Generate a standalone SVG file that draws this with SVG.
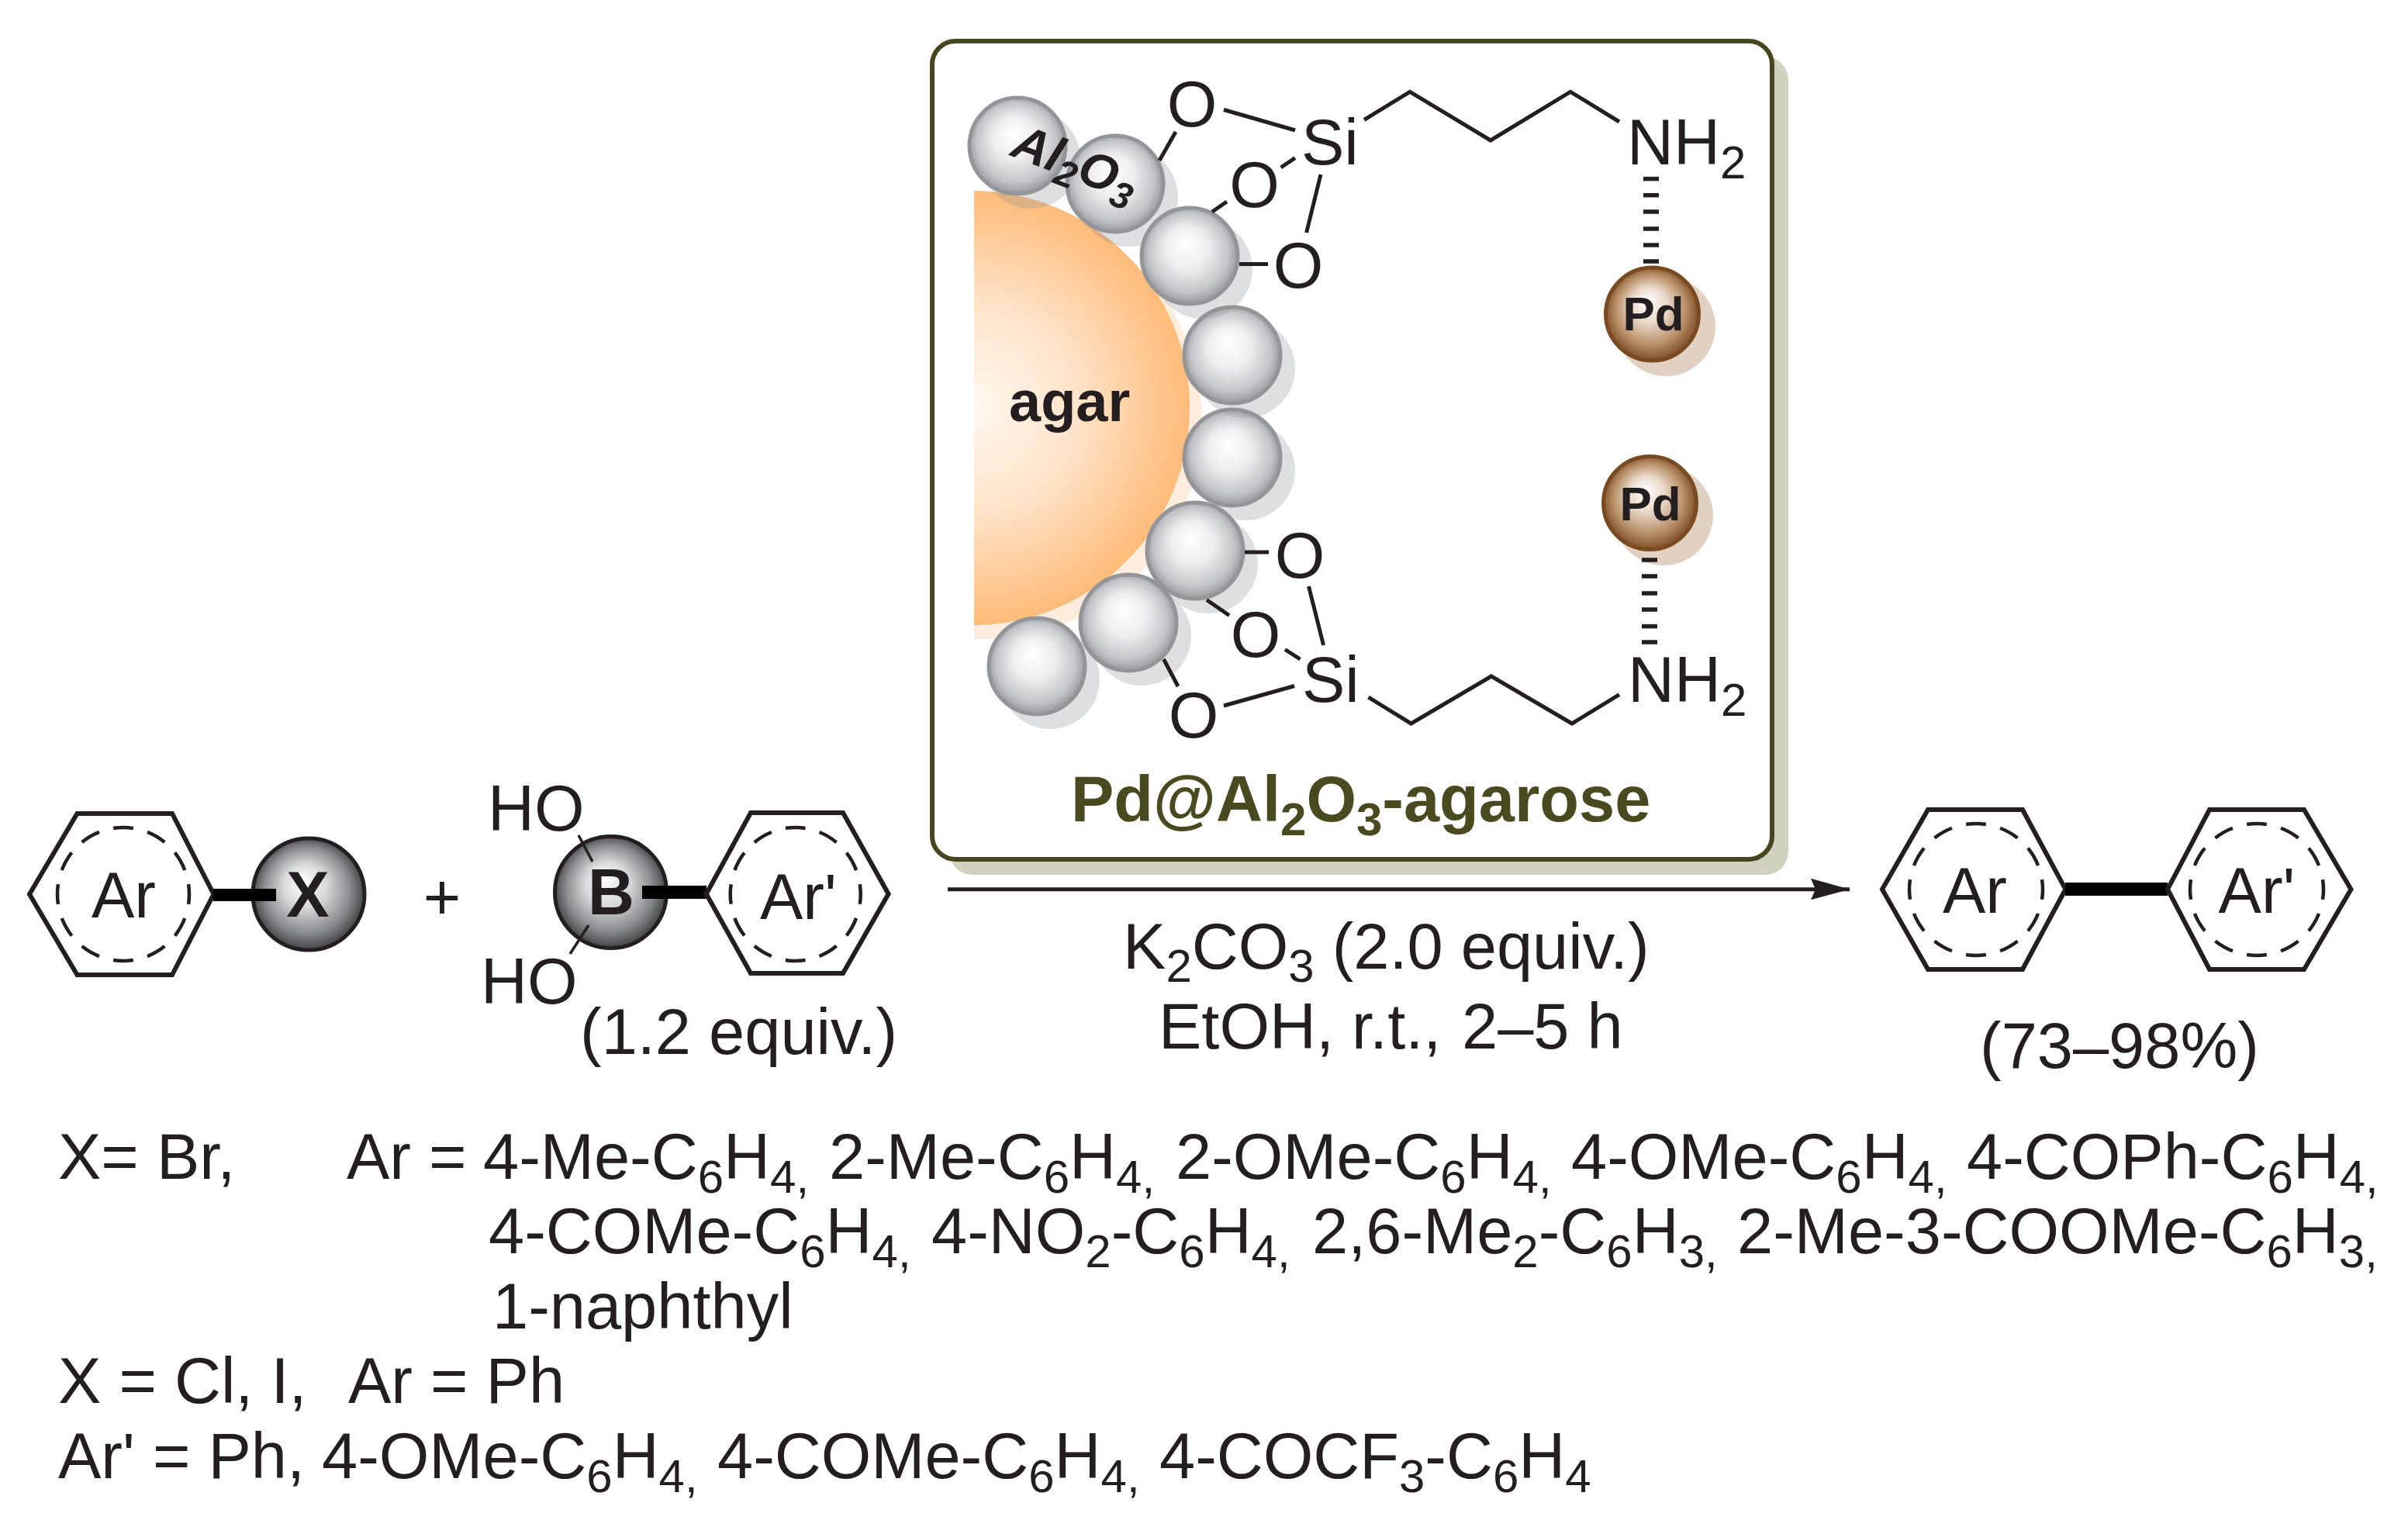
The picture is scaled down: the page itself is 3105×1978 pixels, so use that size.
<svg xmlns="http://www.w3.org/2000/svg" width="3105" height="1978" viewBox="0 0 3105 1978">
<style>
text{font-family:"Liberation Sans",Arial,sans-serif;font-size:83px;fill:#231f20}
.b{font-weight:bold}
.m{text-anchor:middle}
.s{font-size:60px}
.ln{fill:none;stroke:#231f20;stroke-width:5;stroke-linecap:butt;stroke-linejoin:miter}
.th{stroke-width:3.5}
.hex{fill:none;stroke:#231f20;stroke-width:6}
.dash{fill:none;stroke:#231f20;stroke-width:4.5;stroke-dasharray:.58 .42;stroke-dashoffset:.29}
.hash{stroke:#231f20;stroke-width:5.5}
.bold{fill:#000;stroke:none}
.gs{fill:#939598;opacity:.3}
.gb{fill:url(#gray);stroke:#939598;stroke-width:5}
.ps{fill:#a97c50;opacity:.35}
.pb{fill:url(#brown);stroke:#7a4a20;stroke-width:5}
.db{fill:url(#dark);stroke:#231f20;stroke-width:5}
</style>
<defs>
<radialGradient id="agarG" gradientUnits="userSpaceOnUse" cx="1254" cy="526" r="280">
<stop offset="0" stop-color="#fff8f1"/><stop offset=".5" stop-color="#fee2c6"/><stop offset="1" stop-color="#fdbb78"/>
</radialGradient>
<radialGradient id="gray" cx=".5" cy=".5" r=".55" fx=".45" fy=".36">
<stop offset="0" stop-color="#ffffff"/><stop offset=".4" stop-color="#eeeeef"/><stop offset=".75" stop-color="#c4c5c8"/><stop offset="1" stop-color="#85878a"/>
</radialGradient>
<radialGradient id="brown" cx=".5" cy=".5" r=".55" fx=".45" fy=".35">
<stop offset="0" stop-color="#ffffff"/><stop offset=".35" stop-color="#ead9c9"/><stop offset=".7" stop-color="#b58c64"/><stop offset="1" stop-color="#6b3b14"/>
</radialGradient>
<radialGradient id="dark" cx=".5" cy=".5" r=".55" fx=".45" fy=".38">
<stop offset="0" stop-color="#ffffff"/><stop offset=".35" stop-color="#d8d9da"/><stop offset=".7" stop-color="#8a8b8e"/><stop offset="1" stop-color="#2b2b2c"/>
</radialGradient>
<clipPath id="agarClip"><rect x="1256" y="200" width="400" height="700"/></clipPath>
<marker id="head" markerUnits="userSpaceOnUse" markerWidth="52" markerHeight="30" refX="50" refY="14" orient="auto" overflow="visible">
<path d="M0,0 L50,14 L0,27.5 L6,14 Z" fill="#231f20"/>
</marker>
</defs>
<rect width="3105" height="1978" fill="#ffffff"/>

<g id="catalyst-box">
<rect x="1224" y="73" width="1082" height="1055" rx="30" fill="#d0d1bf"/>
<rect x="1202" y="53" width="1083" height="1055" rx="30" fill="#ffffff" stroke="#47471f" stroke-width="6"/>
</g>

<g id="agar">
<g clip-path="url(#agarClip)">
<circle cx="1268" cy="542" r="282" fill="#feeddd"/>
<circle cx="1254" cy="526" r="280" fill="url(#agarG)"/>
</g>
<text class="b" x="1301" y="543" style="font-size:74px">agar</text>
</g>

<g id="al2o3-particles">
<g id="p1"><circle class="gs" cx="1329" cy="205" r="64"/><circle class="gb" cx="1312" cy="188" r="62"/></g>
<g id="p2"><circle class="gs" cx="1455" cy="254" r="64"/><circle class="gb" cx="1438" cy="237" r="62"/></g>
<g id="p5"><circle class="gs" cx="1606" cy="607" r="64"/><circle class="gb" cx="1589" cy="590" r="62"/></g>
<g id="p4"><circle class="gs" cx="1606" cy="475" r="64"/><circle class="gb" cx="1589" cy="458" r="62"/></g>
<g id="p3"><circle class="gs" cx="1551" cy="347" r="64"/><circle class="gb" cx="1534" cy="330" r="62"/></g>
<g id="p8"><circle class="gs" cx="1354" cy="876" r="64"/><circle class="gb" cx="1337" cy="859" r="62"/></g>
<g id="p7"><circle class="gs" cx="1472" cy="820" r="64"/><circle class="gb" cx="1455" cy="803" r="62"/></g>
<g id="p6"><circle class="gs" cx="1558" cy="727" r="64"/><circle class="gb" cx="1541" cy="710" r="62"/></g>
<text class="b" transform="translate(1301,200) rotate(21)" style="font-style:italic;font-size:64px">Al<tspan dy="13" style="font-size:48px">2</tspan><tspan dy="-13">O</tspan><tspan dy="13" style="font-size:48px">3</tspan></text>
</g>

<g id="pd-top"><circle class="ps" cx="2148" cy="421" r="64"/><circle class="pb" cx="2130.5" cy="405" r="60"/><text class="b m" x="2132" y="426" style="font-size:62px">Pd</text></g>
<g id="pd-bottom"><circle class="ps" cx="2145" cy="665" r="64"/><circle class="pb" cx="2127.5" cy="648.5" r="60"/><text class="b m" x="2128" y="671" style="font-size:62px">Pd</text></g>

<g id="connectors">
<line class="ln" x1="1578" y1="141.5" x2="1670" y2="168"/>
<line class="ln" x1="1495" y1="207" x2="1516" y2="170"/>
<line class="ln" x1="1651.6" y1="216" x2="1670" y2="203.6"/>
<line class="ln" x1="1563" y1="273" x2="1582" y2="260"/>
<line class="ln" x1="1703" y1="225" x2="1684.6" y2="300"/>
<line class="ln" x1="1598" y1="340.4" x2="1635" y2="340.4"/>
<polyline class="ln" points="1759,154.5 1818,118.4 1922,181 2025,118.4 2088,157"/>
<line class="hash" x1="2119" y1="230.6" x2="2139" y2="230.6"/><line class="hash" x1="2119" y1="251.7" x2="2139" y2="251.7"/><line class="hash" x1="2119" y1="273" x2="2139" y2="273"/><line class="hash" x1="2119" y1="295" x2="2139" y2="295"/><line class="hash" x1="2119" y1="316" x2="2139" y2="316"/><line class="hash" x1="2119" y1="337" x2="2139" y2="337"/>
<line class="ln" x1="1605" y1="712" x2="1636" y2="712"/>
<line class="ln" x1="1687.5" y1="756" x2="1706.6" y2="832"/>
<line class="ln" x1="1556" y1="773.5" x2="1585" y2="793.5"/>
<line class="ln" x1="1657" y1="837.5" x2="1676.5" y2="850"/>
<line class="ln" x1="1500.5" y1="850" x2="1519" y2="885"/>
<line class="ln" x1="1578" y1="910" x2="1669" y2="884.5"/>
<polyline class="ln" points="1764.5,899 1819.5,933 1923,872 2027,933 2088,895.6"/>
<line class="hash" x1="2117" y1="722" x2="2137" y2="722"/><line class="hash" x1="2117" y1="743" x2="2137" y2="743"/><line class="hash" x1="2117" y1="765" x2="2137" y2="765"/><line class="hash" x1="2117" y1="786" x2="2137" y2="786"/><line class="hash" x1="2117" y1="807.6" x2="2137" y2="807.6"/><line class="hash" x1="2117" y1="828" x2="2137" y2="828"/>
<line class="ln" x1="1222" y1="1146.7" x2="2385" y2="1146.7" marker-end="url(#head)"/>
</g>

<g id="silane-top">
<text class="m" x="1537" y="163">O</text><text class="m" x="1617.5" y="267">O</text><text class="m" x="1674" y="371">O</text>
<text x="1678" y="212">Si</text>
<text x="2098" y="212">NH<tspan class="s" dy="18">2</tspan></text>
</g>
<g id="silane-bottom">
<text class="m" x="1676" y="745">O</text><text class="m" x="1619" y="847">O</text><text class="m" x="1539" y="951">O</text>
<text x="1679" y="905">Si</text>
<text x="2099" y="905">NH<tspan class="s" dy="18">2</tspan></text>
</g>
<text id="catalyst-label" class="b" x="1381" y="1059" style="fill:#4a4a20">Pd@Al<tspan class="s" dy="18">2</tspan><tspan dy="-18">O</tspan><tspan class="s" dy="18">3</tspan><tspan dy="-18">-agarose</tspan></text>

<g id="aryl-halide">
<polygon class="hex" points="38,1153 99.5,1049 222,1049 275.5,1153 222,1257 99.5,1257"/>
<ellipse class="dash" pathLength="12" cx="159" cy="1153" rx="85" ry="86"/>
<text x="118" y="1183">Ar</text>
<circle class="db" cx="398" cy="1153" r="72"/>
<rect class="bold" x="275" y="1146" width="81" height="16"/>
<text class="b m" x="397" y="1182">X</text>
</g>
<text id="plus" class="m" x="570" y="1185">+</text>
<g id="boronic-acid">
<circle class="db" cx="787.5" cy="1150.5" r="72"/>
<line class="ln th" x1="746" y1="1077" x2="764" y2="1111"/>
<line class="ln th" x1="759" y1="1193" x2="735" y2="1230"/>
<rect class="bold" x="828" y="1142" width="83" height="17"/>
<polygon class="hex" points="910.7,1152.7 968,1048 1087,1048 1145.6,1152.7 1087,1255 968,1255"/>
<ellipse class="dash" pathLength="12" cx="1025.7" cy="1153" rx="84" ry="86"/>
<text x="980" y="1185">Ar'</text>
<text class="b m" x="788" y="1179">B</text>
<text x="629" y="1071">HO</text>
<text x="620" y="1294">HO</text>
<text x="748" y="1359">(1.2 equiv.)</text>
</g>
<g id="conditions">
<text x="1448" y="1249">K<tspan class="s" dy="17">2</tspan><tspan dy="-17">CO</tspan><tspan class="s" dy="17">3</tspan><tspan dy="-17"> (2.0 equiv.)</tspan></text>
<text x="1494" y="1352">EtOH, r.t., <tspan x="1885">2–5 h</tspan></text>
</g>
<g id="biaryl">
<polygon class="hex" points="2427,1146.7 2486,1044 2608,1044 2663.4,1146.7 2608,1250 2486,1250"/>
<ellipse class="dash" pathLength="12" cx="2548" cy="1147" rx="86" ry="85"/>
<text x="2505" y="1177">Ar</text>
<rect class="bold" x="2663" y="1138" width="132" height="17"/>
<polygon class="hex" points="2795,1146.7 2849,1044 2971,1044 3031.5,1146.7 2971,1250 2849,1250"/>
<ellipse class="dash" pathLength="12" cx="2910" cy="1147" rx="86" ry="85"/>
<text x="2860.6" y="1177">Ar'</text>
<text x="2553" y="1377">(73–98%)</text>
</g>
<g id="substituents">
<text x="75" y="1520">X= Br,</text>
<text x="447" y="1520">Ar =</text>
<text x="623" y="1520">4-Me-C<tspan class="s" dy="18">6</tspan><tspan dy="-18">H</tspan><tspan class="s" dy="18">4,</tspan></text>
<text x="1069" y="1520">2-Me-C<tspan class="s" dy="18">6</tspan><tspan dy="-18">H</tspan><tspan class="s" dy="18">4,</tspan></text>
<text x="1516" y="1520">2-OMe-C<tspan class="s" dy="18">6</tspan><tspan dy="-18">H</tspan><tspan class="s" dy="18">4,</tspan></text>
<text x="2026" y="1520">4-OMe-C<tspan class="s" dy="18">6</tspan><tspan dy="-18">H</tspan><tspan class="s" dy="18">4,</tspan></text>
<text x="2536" y="1520">4-COPh-C<tspan class="s" dy="18">6</tspan><tspan dy="-18">H</tspan><tspan class="s" dy="18">4,</tspan></text>
<text x="630" y="1616">4-COMe-C<tspan class="s" dy="18">6</tspan><tspan dy="-18">H</tspan><tspan class="s" dy="18">4,</tspan></text>
<text x="1201" y="1616">4-NO<tspan class="s" dy="18">2</tspan><tspan dy="-18">-C</tspan><tspan class="s" dy="18">6</tspan><tspan dy="-18">H</tspan><tspan class="s" dy="18">4,</tspan></text>
<text x="1692" y="1616">2,6-Me<tspan class="s" dy="18">2</tspan><tspan dy="-18">-C</tspan><tspan class="s" dy="18">6</tspan><tspan dy="-18">H</tspan><tspan class="s" dy="18">3,</tspan></text>
<text x="2240" y="1616">2-Me-3-COOMe-C<tspan class="s" dy="18">6</tspan><tspan dy="-18">H</tspan><tspan class="s" dy="18">3,</tspan></text>
<text x="635" y="1713">1-naphthyl</text>
<text x="75" y="1809">X = Cl, I,</text>
<text x="449" y="1809">Ar = Ph</text>
<text x="75" y="1906">Ar' = Ph,</text>
<text x="415" y="1906">4-OMe-C<tspan class="s" dy="18">6</tspan><tspan dy="-18">H</tspan><tspan class="s" dy="18">4,</tspan></text>
<text x="925" y="1906">4-COMe-C<tspan class="s" dy="18">6</tspan><tspan dy="-18">H</tspan><tspan class="s" dy="18">4,</tspan></text>
<text x="1495" y="1906">4-COCF<tspan class="s" dy="18">3</tspan><tspan dy="-18">-C</tspan><tspan class="s" dy="18">6</tspan><tspan dy="-18">H</tspan><tspan class="s" dy="18">4</tspan></text>
</g>
</svg>
